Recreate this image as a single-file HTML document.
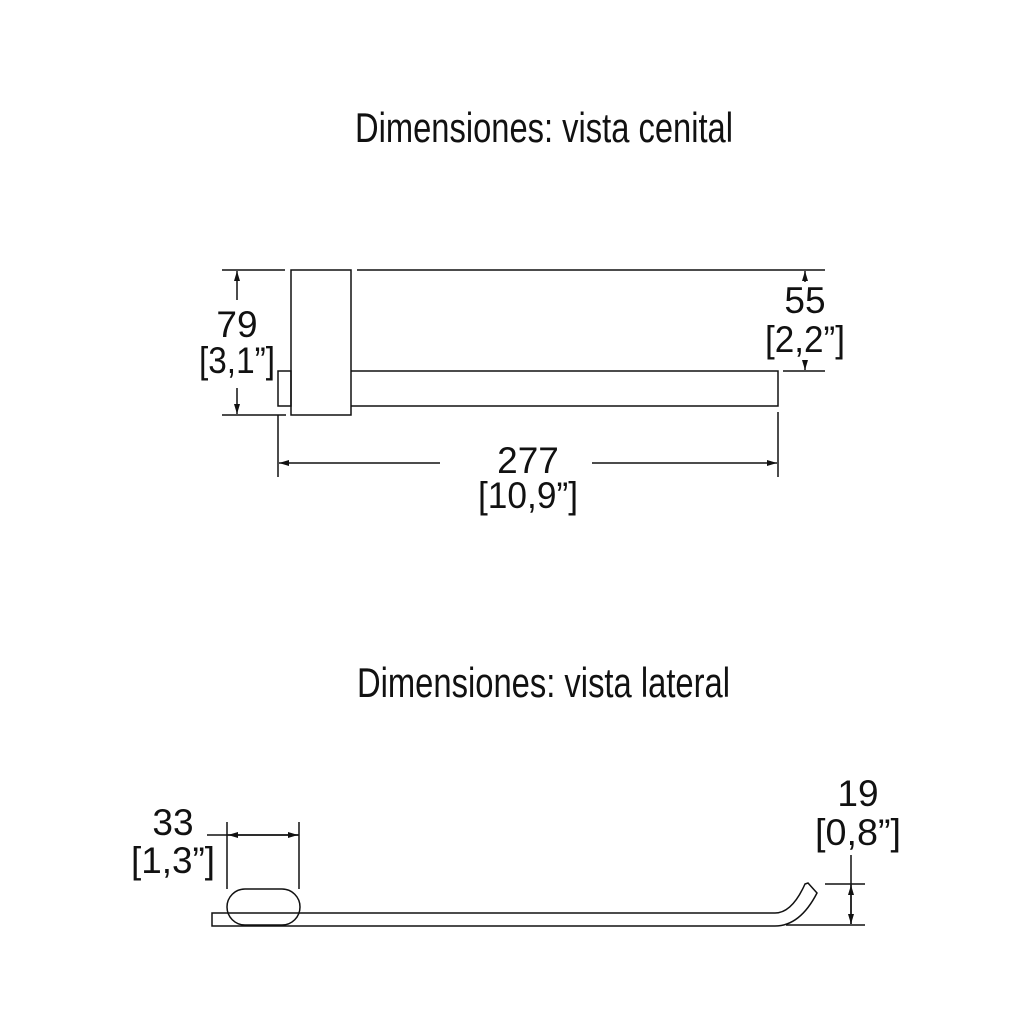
<!DOCTYPE html>
<html><head><meta charset="utf-8"><style>html,body{margin:0;padding:0;background:#fff}svg{display:block}</style></head>
<body>
<svg width="1024" height="1028" viewBox="0 0 1024 1028" xmlns="http://www.w3.org/2000/svg" font-family="Liberation Sans Narrow, Liberation Sans, sans-serif" fill="#111">
<defs>
<marker id="a" viewBox="0 0 10 6" refX="10" refY="3" markerWidth="10" markerHeight="6" orient="auto-start-reverse" markerUnits="userSpaceOnUse"><path d="M0,0 L10,3 L0,6 z" fill="#111"/></marker>
</defs>
<text x="355" y="142" font-size="42" textLength="378" lengthAdjust="spacingAndGlyphs">Dimensiones: vista cenital</text>
<text x="357" y="697" font-size="42" textLength="373" lengthAdjust="spacingAndGlyphs">Dimensiones: vista lateral</text>
<g stroke="#111" stroke-width="1.5" fill="none">
<rect x="291" y="270" width="60" height="145"/>
<rect x="278" y="371" width="13" height="35"/>
<path d="M351 371 H778 V406 H351"/>
<path d="M357 270 H825"/>
<path d="M222 270 H285 M222 415 H286"/>
<path d="M237 300 V271" marker-end="url(#a)"/>
<path d="M237 388 V414" marker-end="url(#a)"/>
<path d="M278 415 V477 M778 412 V477"/>
<path d="M440 463 H279" marker-end="url(#a)"/>
<path d="M592 463 H777" marker-end="url(#a)"/>
<path d="M783 371 H825"/>
<path d="M805 282 V271" marker-end="url(#a)"/>
<path d="M805 360 V370" marker-end="url(#a)"/>
<path d="M300 913 H212 V926 H300"/>
<rect x="227" y="889" width="73" height="36" rx="18"/>
<path d="M300 913 H775 Q792 913 805 884 L808 883 L817 893 Q800 926 775 926 H300"/>
<path d="M227 822 V889 M299 822 V889"/>
<path d="M207 835 H299"/>
<path d="M263 835 H228" marker-end="url(#a)"/>
<path d="M263 835 H298" marker-end="url(#a)"/>
<path d="M825 884 H865 M786 925 H865"/>
<path d="M851 855 V924"/>
<path d="M851 905 V885" marker-end="url(#a)"/>
<path d="M851 905 V924" marker-end="url(#a)"/>
</g>
<g font-size="37" text-anchor="middle">
<text x="237" y="337">79</text>
<text x="237" y="373" textLength="76" lengthAdjust="spacingAndGlyphs">[3,1”]</text>
<text x="805" y="313">55</text>
<text x="805" y="352" textLength="80" lengthAdjust="spacingAndGlyphs">[2,2”]</text>
<text x="528" y="473">277</text>
<text x="528" y="508" textLength="100" lengthAdjust="spacingAndGlyphs">[10,9”]</text>
<text x="173" y="835">33</text>
<text x="173" y="873" textLength="84" lengthAdjust="spacingAndGlyphs">[1,3”]</text>
<text x="858" y="806">19</text>
<text x="858" y="845" textLength="86" lengthAdjust="spacingAndGlyphs">[0,8”]</text>
</g>
</svg>
</body></html>
